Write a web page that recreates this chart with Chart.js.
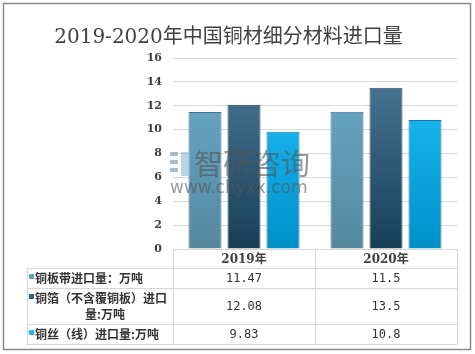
<!DOCTYPE html>
<html><head><meta charset="utf-8">
<script src="https://cdn.jsdelivr.net/npm/chart.js@4"></script>
<style>html,body{margin:0;padding:0;background:#fff}#wrap{width:475px;height:354px;position:relative}</style>
</head><body><div id="wrap"><canvas id="c" width="475" height="354"></canvas></div>
<script>
const title = '2019-2020年中国铜材细分材料进口量';
const categories = ['2019年', '2020年'];
const seriesNames = ['铜板带进口量：万吨', '铜箔（不含覆铜板）进口量:万吨', '铜丝（线）进口量:万吨'];
const plateStrip = [11.47, 11.5];
const foil = [12.08, 13.5];
const wire = [9.83, 10.8];
const valueLabels = [['11.47', '11.5'], ['12.08', '13.5'], ['9.83', '10.8']];
const yTicks = [0, 2, 4, 6, 8, 10, 12, 14, 16];

const palette = [
  {top:'#6AADCD', bot:'#55889F', border:'#3F6F8A', key:'#5FA3C4'},
  {top:'#4D7B99', bot:'#173F57', border:'#284B62', key:'#35607E'},
  {top:'#22C2FF', bot:'#0090C8', border:'#1279A8', key:'#1FB5F0'}
];

function grad(ctx, i) {
  const ch = ctx.chart; const a = ch.chartArea;
  if (!a) return palette[i].top;
  const g = ch.ctx.createLinearGradient(0, a.top, 0, a.bottom);
  g.addColorStop(0, palette[i].top);
  g.addColorStop(1, palette[i].bot);
  return g;
}

const tablePlugin = {
  id: 'tbl',
  beforeDraw(chart) {
    const c = chart.ctx;
    c.save();
    c.fillStyle = '#fff'; c.fillRect(0, 0, chart.width, chart.height);
    c.strokeStyle = '#8a8a8a'; c.lineWidth = 1.5;
    c.strokeRect(3.5, 3.5, 467, 346);
    c.restore();
  },
  afterDatasetsDraw(chart) {
    const c = chart.ctx;
    c.save();
    c.globalAlpha = 0.6;
    c.fillStyle = '#6f8fb8';
    c.fillRect(170, 152, 8, 4); c.fillRect(170, 160, 8, 4); c.fillRect(170, 168, 8, 4);
    c.fillStyle = '#8fb7dc';
    c.fillRect(181, 152, 9, 24);
    c.fillStyle = '#555';
    c.font = '29px "Noto Sans CJK SC"';
    c.textBaseline = 'middle'; c.textAlign = 'left';
    c.fillText('智研咨询', 194, 164);
    c.font = '17px "DejaVu Sans"';
    c.fillText('www.chyxx.com', 170, 189);
    c.restore();
  },
  afterDraw(chart) {
    const c = chart.ctx;
    const a = chart.chartArea;
    const x = chart.scales.x;
    const n = categories.length;
    const cw = (a.right - a.left) / n;
    const left = 27;
    const top = a.bottom;
    const headerH = 19;
    c.save();
    c.font = 'bold 12px "Noto Sans CJK SC"';
    const labW = a.left - left - 10;
    const rows = seriesNames.map(s => {
      const lines = []; let cur = '';
      for (const ch of s) {
        if (c.measureText(cur + ch).width > labW) { lines.push(cur); cur = ch; } else cur += ch;
      }
      lines.push(cur);
      return lines;
    });
    const heights = rows.map(l => l.length > 1 ? 36 : 20);
    const bottoms = [];
    let y = top + headerH;
    heights.forEach(h => { bottoms.push(y + h); y += h; });
    const tableBottom = y;
    c.strokeStyle = '#d6d6d6'; c.lineWidth = 1;
    c.beginPath();
    c.moveTo(a.left, top + 0.5); c.lineTo(a.right, top + 0.5);
    c.moveTo(left, top + headerH + 0.5); c.lineTo(a.right, top + headerH + 0.5);
    bottoms.forEach(b => { c.moveTo(left, b + 0.5); c.lineTo(a.right, b + 0.5); });
    c.moveTo(left + 0.5, top + headerH); c.lineTo(left + 0.5, tableBottom);
    for (let i = 0; i <= n; i++) {
      const xx = Math.round(a.left + i * cw) + 0.5;
      c.moveTo(xx, top); c.lineTo(xx, tableBottom);
    }
    c.stroke();
    c.fillStyle = '#404040';
    c.textAlign = 'center'; c.textBaseline = 'middle';
    c.font = 'bold 12px "DejaVu Serif", "Noto Sans CJK SC"';
    categories.forEach((cat, i) => c.fillText(cat, x.getPixelForValue(i), top + headerH / 2 + 1));
    let ry = top + headerH;
    rows.forEach((lines, r) => {
      const h = heights[r];
      c.fillStyle = palette[r].key;
      const firstY = ry + (lines.length > 1 ? 10 : h / 2);
      c.fillRect(29, firstY - 4, 5, 5);
      c.fillStyle = '#333';
      c.font = 'bold 12px "Noto Sans CJK SC"';
      lines.forEach((ln, k) => {
        if (k === 0) { c.textAlign = 'left'; c.fillText(ln, 35, firstY); }
        else { c.textAlign = 'center'; c.fillText(ln, (left + a.left) / 2 + 5, firstY + 16 * k); }
      });
      c.font = '12px "DejaVu Sans Mono", monospace';
      c.textAlign = 'center';
      valueLabels[r].forEach((v, i) => c.fillText(v, x.getPixelForValue(i), ry + h / 2 + 1));
      ry += h;
    });
    c.restore();
  }
};

new Chart(document.getElementById('c'), {
  type: 'bar',
  data: {
    labels: categories,
    datasets: [plateStrip, foil, wire].map((d, i) => ({
      label: seriesNames[i],
      data: d,
      backgroundColor: ctx => grad(ctx, i),
      borderColor: palette[i].border,
      borderWidth: 1,
      categoryPercentage: 0.824,
      barPercentage: 0.846
    }))
  },
  options: {
    responsive: false,
    animation: false,
    devicePixelRatio: 1,
    layout: { padding: { left: 0, right: 18, top: 0, bottom: 105 } },
    plugins: {
      legend: { display: false },
      tooltip: { enabled: false },
      title: {
        display: true, text: title,
        color: '#404040',
        font: { family: '"DejaVu Serif", "Noto Sans CJK SC"', size: 20, weight: 'normal', lineHeight: 1.2 },
        padding: { top: 26, bottom: 8 }
      }
    },
    scales: {
      x: { display: false },
      y: {
        min: 0, max: 16,
        afterBuildTicks: s => { s.ticks = yTicks.map(v => ({ value: v })); },
        afterFit: s => { s.width = 173; },
        border: { display: false },
        grid: { color: '#d9d9d9', drawTicks: false },
        ticks: { padding: 11, color: '#404040', font: { family: '"DejaVu Serif"', size: 11, weight: 'bold' } }
      }
    }
  },
  plugins: [tablePlugin]
});
</script></body></html>
